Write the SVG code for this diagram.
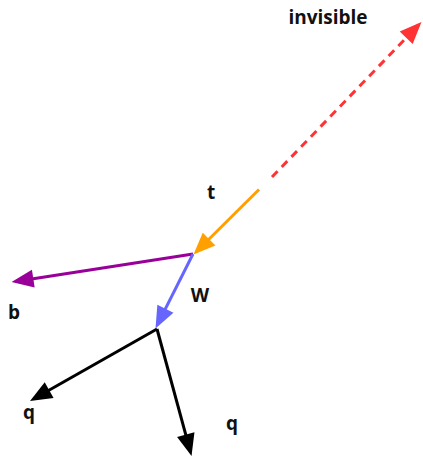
<svg xmlns="http://www.w3.org/2000/svg" width="423" height="457" viewBox="0 0 423 457">
<style>
.e{fill:none;stroke-width:3}
.l{font-family:"Open Sans","Noto Sans",sans-serif;font-weight:bold;font-size:19px;fill:#111;text-anchor:middle}
</style>
<defs>
<marker id="mr" markerUnits="userSpaceOnUse" markerWidth="24" markerHeight="20" refX="18" refY="9" orient="auto" overflow="visible"><path d="M0,0 L22,9 L0,18 z" fill="#ff3333"/></marker>
<marker id="mo" markerUnits="userSpaceOnUse" markerWidth="24" markerHeight="20" refX="18" refY="9" orient="auto" overflow="visible"><path d="M0,0 L22,9 L0,18 z" fill="#ffa000"/></marker>
<marker id="mp" markerUnits="userSpaceOnUse" markerWidth="24" markerHeight="20" refX="18" refY="9" orient="auto" overflow="visible"><path d="M0,0 L22,9 L0,18 z" fill="#990099"/></marker>
<marker id="mb" markerUnits="userSpaceOnUse" markerWidth="24" markerHeight="20" refX="18" refY="9" orient="auto" overflow="visible"><path d="M0,0 L22,9 L0,18 z" fill="#6666ff"/></marker>
<marker id="mk" markerUnits="userSpaceOnUse" markerWidth="24" markerHeight="20" refX="18" refY="9" orient="auto" overflow="visible"><path d="M0,0 L22,9 L0,18 z" fill="#000"/></marker>
</defs>
<g id="connectors">
<path class="e" d="M272,177 L418.7,24.9" stroke="#ff3333" stroke-width="3.5" stroke-dasharray="8,6" marker-end="url(#mr)"/>
<path class="e" d="M259,189.5 L196.3,251.7" stroke="#ffa000" marker-end="url(#mo)"/>
<path class="e" d="M193,254 L15.5,281.4" stroke="#990099" marker-end="url(#mp)"/>
<path class="e" d="M193,254 L157.3,324.9" stroke="#6666ff" marker-end="url(#mb)"/>
<path class="e" d="M157,329 L33.5,399" stroke="#000" marker-end="url(#mk)"/>
<path class="e" d="M157,329 L190.5,452.1" stroke="#000" marker-end="url(#mk)"/>
</g>
<g id="label-invisible"><text class="l" x="328" y="24">invisible</text></g>
<g id="label-t"><text class="l" x="211" y="199">t</text></g>
<g id="label-b"><text class="l" x="14" y="319">b</text></g>
<g id="label-W"><text class="l" x="200" y="302">W</text></g>
<g id="label-q1"><text class="l" x="29" y="419">q</text></g>
<g id="label-q2"><text class="l" x="232" y="430">q</text></g>
</svg>
